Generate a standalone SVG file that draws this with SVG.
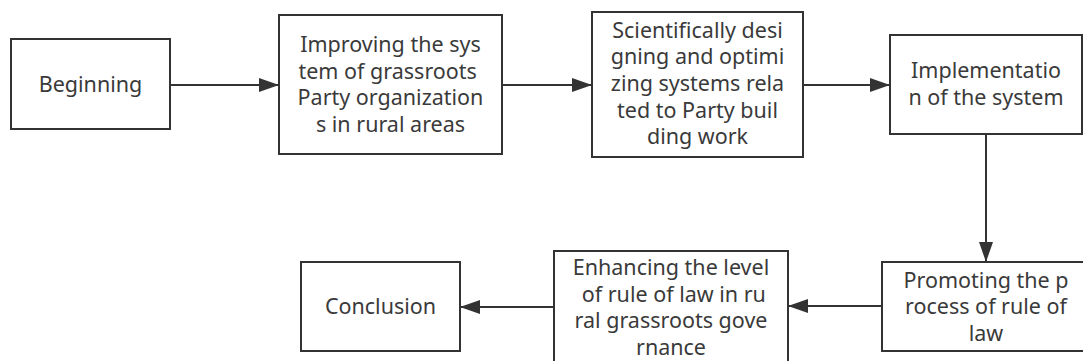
<svg xmlns="http://www.w3.org/2000/svg" width="1083" height="361" viewBox="0 0 1083 361">
<style>
.box{fill:#fff;stroke:#333;stroke-width:2}
.t{font-family:"Noto Sans","Open Sans",sans-serif;font-size:21.5px;fill:#3a3a3a;text-anchor:middle}
.c{stroke:#333;stroke-width:2;fill:none;marker-end:url(#ah)}
</style>
<defs>
<marker id="ah" markerUnits="userSpaceOnUse" markerWidth="20" markerHeight="14" refX="20" refY="7" orient="auto">
<path d="M0,0 L20,7 L0,14 Z" fill="#333"/>
</marker>
</defs>
<rect width="1083" height="361" fill="#fff"/>
<g id="connectors">
<line class="c" x1="170" y1="85" x2="279" y2="85"/>
<line class="c" x1="502" y1="85" x2="592" y2="85"/>
<line class="c" x1="803" y1="85" x2="890" y2="85"/>
<line class="c" x1="986" y1="134" x2="986" y2="262"/>
<line class="c" x1="882" y1="306" x2="788" y2="306"/>
<line class="c" x1="554" y1="307" x2="460" y2="307"/>
</g>
<g id="n1">
<rect class="box" x="11" y="39" width="159" height="90"/>
<text class="t" x="90.5" y="92">Beginning</text>
</g>
<g id="n2">
<rect class="box" x="279" y="15" width="223" height="139"/>
<text class="t"><tspan x="390.5" y="52">Improving the sys</tspan><tspan x="390.5" y="78.7">tem of grassroots </tspan><tspan x="390.5" y="105.4">Party organization</tspan><tspan x="390.5" y="132.1">s in rural areas</tspan></text>
</g>
<g id="n3">
<rect class="box" x="592" y="12" width="211" height="145"/>
<text class="t"><tspan x="697.5" y="37.5">Scientifically desi</tspan><tspan x="697.5" y="64.2">gning and optimi</tspan><tspan x="697.5" y="90.9">zing systems rela</tspan><tspan x="697.5" y="117.6">ted to Party buil</tspan><tspan x="697.5" y="144.3">ding work</tspan></text>
</g>
<g id="n4">
<rect class="box" x="890" y="35" width="192" height="99"/>
<text class="t"><tspan x="986" y="78">Implementatio</tspan><tspan x="986" y="105">n of the system</tspan></text>
</g>
<g id="n5">
<rect class="box" x="882" y="262" width="210" height="89"/>
<text class="t"><tspan x="986" y="287.5">Promoting the p</tspan><tspan x="986" y="314.2">rocess of rule of</tspan><tspan x="986" y="340.9">law</tspan></text>
</g>
<g id="n6">
<rect class="box" x="554" y="251" width="234" height="115"/>
<text class="t"><tspan x="671" y="275">Enhancing the level</tspan><tspan x="671" y="301.7"> of rule of law in ru</tspan><tspan x="671" y="328.4">ral grassroots gove</tspan><tspan x="671" y="355.1">rnance</tspan></text>
</g>
<g id="n7">
<rect class="box" x="301" y="262" width="159" height="89"/>
<text class="t" x="380.5" y="314">Conclusion</text>
</g>
</svg>
